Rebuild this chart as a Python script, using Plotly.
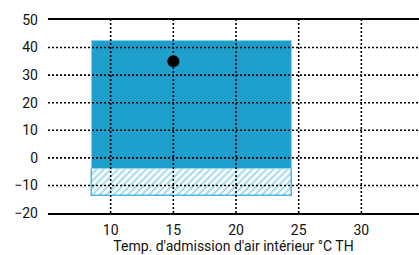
import plotly.graph_objects as go

# Data
x_ticks = [10, 15, 20, 25, 30]
y_ticks = [-20, -10, 0, 10, 20, 30, 40, 50]
x_range = [5, 34.6]
y_range = [-20, 50]

range_x = [8.5, 24.5]          # operating range, indoor intake temp
solid_range_y = [-4, 42.5]     # continuous range
hatched_range_y = [-14, -4]    # extended range (hatched)
point_x = [15]
point_y = [35]

BLUE = "#1f9fcc"
HATCH = "#4fb8e0"

fig = go.Figure()

xc = (range_x[0] + range_x[1]) / 2
w = range_x[1] - range_x[0]

fig.add_trace(go.Bar(
    x=[xc], y=[hatched_range_y[1] - hatched_range_y[0]], base=[hatched_range_y[0]],
    width=[w],
    marker=dict(color="white",
                line=dict(color=HATCH, width=1.5),
                pattern=dict(shape="/", fgcolor=HATCH, bgcolor="white", size=5, solidity=0.45)),
    showlegend=False, hoverinfo="skip",
))
fig.add_trace(go.Bar(
    x=[xc], y=[solid_range_y[1] - solid_range_y[0]], base=[solid_range_y[0]],
    width=[w],
    marker=dict(color=BLUE, line=dict(color="#8fd0ea", width=1)),
    showlegend=False, hoverinfo="skip",
))
fig.add_trace(go.Scatter(
    x=point_x, y=point_y, mode="markers",
    marker=dict(color="black", size=12),
    showlegend=False, hoverinfo="skip",
))

shapes = []
dot = "2px,2px"
for xv in x_ticks:
    shapes.append(dict(type="line", xref="x", yref="y", x0=xv, x1=xv,
                       y0=y_range[0], y1=y_range[1], layer="above",
                       line=dict(color="black", width=1.6, dash=dot)))
for yv in y_ticks[1:-1]:
    shapes.append(dict(type="line", xref="paper", yref="y", x0=0, x1=1,
                       y0=yv, y1=yv, layer="above",
                       line=dict(color="black", width=1.6, dash=dot)))

fig.update_layout(
    width=419, height=255,
    margin=dict(l=48, r=0, t=20, b=42),
    paper_bgcolor="white", plot_bgcolor="white",
    barmode="overlay", bargap=0,
    shapes=shapes,
    font=dict(family="Roboto", size=14, color="#111"),
    xaxis=dict(range=x_range, tickvals=x_ticks, showgrid=False, zeroline=False,
               showline=True, mirror=True, linecolor="black", linewidth=1.5,
               ticks="", ticklen=0, automargin=False, ticklabelstandoff=3,
               title=dict(text="Temp. d'admission d'air intérieur °C TH",
                          standoff=4, font=dict(size=14))),
    yaxis=dict(range=y_range, tickvals=y_ticks, showgrid=False, zeroline=False,
               showline=False, ticks="", automargin=False, ticklabelstandoff=9),
)

fig.write_html("out.html", config={"displayModeBar": False},
               post_script="document.body.style.margin='0';document.body.style.overflow='hidden';")
